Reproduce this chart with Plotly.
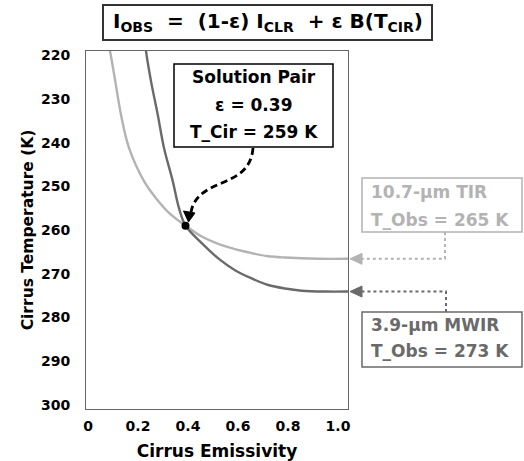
import plotly.graph_objects as go

# ---- data ----
tir_eps = [0.080, 0.088, 0.109, 0.132, 0.164, 0.224, 0.272, 0.332, 0.390, 0.455, 0.521, 0.588, 0.655, 0.721, 0.788, 0.921, 1.040]
tir_temp = [217.0, 219.0, 225.9, 233.6, 241.2, 248.8, 252.7, 256.5, 259.0, 261.5, 263.2, 264.4, 265.3, 266.0, 266.3, 266.6, 266.6]

mwir_eps = [0.228, 0.232, 0.252, 0.279, 0.304, 0.339, 0.364, 0.390, 0.455, 0.521, 0.588, 0.655, 0.721, 0.788, 0.855, 0.948, 1.040]
mwir_temp = [217.0, 219.0, 225.9, 233.6, 241.2, 248.8, 255.0, 259.0, 263.0, 266.5, 269.2, 271.1, 272.6, 273.4, 273.9, 274.1, 274.1]

solution_eps = 0.39
solution_temp = 259

y_ticks = [220, 230, 240, 250, 260, 270, 280, 290, 300]
x_ticks = [0, 0.2, 0.4, 0.6, 0.8, 1.0]
x_tick_text = ["0", "0.2", "0.4", "0.6", "0.8", "1.0"]

LIGHT = "#b3b3b3"
DARK = "#6a6a6a"
FONT = "DejaVu Sans"

W, H = 524, 461
L, R, T, B = 86, 348, 51, 409
XR = [-0.008, 1.04]
YR = [301, 219]


def px(x):
    return (x - L) / (R - L)


def py(y):
    return (B - y) / (B - T)


def dy(t):
    # data temperature -> paper y
    return (YR[0] - t) / (YR[0] - YR[1])


fig = go.Figure()
fig.add_trace(go.Scatter(x=tir_eps, y=tir_temp, mode="lines",
                         line=dict(color=LIGHT, width=2.4, shape="spline", smoothing=1.0),
                         showlegend=False))
fig.add_trace(go.Scatter(x=mwir_eps, y=mwir_temp, mode="lines",
                         line=dict(color=DARK, width=2.4, shape="spline", smoothing=1.0),
                         showlegend=False))
fig.add_trace(go.Scatter(x=[solution_eps], y=[solution_temp], mode="markers",
                         marker=dict(color="black", size=8), showlegend=False))

shapes = []
annotations = []


def rect(x0, y0, x1, y1, color, width):
    shapes.append(dict(type="rect", xref="paper", yref="paper",
                       x0=px(x0), x1=px(x1), y0=py(y1), y1=py(y0),
                       line=dict(color=color, width=width), fillcolor="rgba(0,0,0,0)"))


def path(points_str, color, width, dash="solid", fill=None):
    d = dict(type="path", xref="paper", yref="paper", path=points_str,
             line=dict(color=color, width=width, dash=dash))
    if fill:
        d["fillcolor"] = fill
    shapes.append(d)


def P(x, y):
    return f"{px(x):.5f},{py(y):.5f}"


def text(x, y, s, size, color, xanchor="center"):
    annotations.append(dict(xref="paper", yref="paper", x=px(x), y=py(y), text=s,
                            showarrow=False, xanchor=xanchor, yanchor="middle",
                            font=dict(family=FONT, size=size, color=color, weight="bold")))


# equation box
rect(103, 5, 432, 40, "#333333", 2)
text(268, 22, "I<sub>OBS</sub>\u00a0\u00a0=\u00a0\u00a0(1-ε) I<sub>CLR</sub>\u00a0\u00a0+ ε B(T<sub>CIR</sub>)", 20, "black")

# solution pair box
rect(174, 64, 333, 147, "black", 1.5)
text(253.5, 77, "Solution Pair", 17, "black")
text(253.5, 105, f"ε = {solution_eps}", 17, "black")
text(253.5, 132, f"T_Cir = {solution_temp} K", 17, "black")
path(f"M{P(253,148)} C{P(250,190)} {P(198,176)} {P(191,212)}", "black", 2.8, dash="7px,4px")
path(f"M{P(188.5,222)} L{P(183.5,211)} L{P(195,213)} Z", "black", 1, fill="black")

# TIR label
rect(362, 178, 522, 232, LIGHT, 1.5)
text(369, 192, "10.7-μm TIR", 17, LIGHT, "left")
text(369, 220, "T_Obs = 265 K", 17, LIGHT, "left")
ty_px = B - dy(tir_temp[-1]) * (B - T)
path(f"M{P(445,232)} L{P(445,ty_px)} L{P(359,ty_px)}", LIGHT, 2, dash="dot")
path(f"M{P(350,ty_px)} L{P(362,ty_px-5.5)} L{P(362,ty_px+5.5)} Z", LIGHT, 1, fill=LIGHT)

# MWIR label
rect(362, 312, 522, 367, DARK, 1.5)
text(369, 325, "3.9-μm MWIR", 17, DARK, "left")
text(369, 351, "T_Obs = 273 K", 17, DARK, "left")
my_px = B - dy(mwir_temp[-1]) * (B - T)
path(f"M{P(446,312)} L{P(446,my_px)} L{P(359,my_px)}", DARK, 2, dash="dot")
path(f"M{P(350,my_px)} L{P(362,my_px-5.5)} L{P(362,my_px+5.5)} Z", DARK, 1, fill=DARK)

fig.update_layout(
    width=W, height=H, autosize=False,
    margin=dict(l=L, r=W - R, t=T, b=H - B, pad=0),
    plot_bgcolor="white", paper_bgcolor="white",
    shapes=shapes, annotations=annotations,
    font=dict(family=FONT, color="black"),
)
fig.update_xaxes(range=XR, tickvals=x_ticks, ticktext=x_tick_text, showgrid=False, zeroline=False,
                 showline=True, linecolor="#666666", linewidth=1, mirror=True, automargin=False,
                 ticks="outside", ticklen=4, tickcolor="rgba(0,0,0,0)",
                 tickfont=dict(family=FONT, size=14, color="black", weight="bold"),
                 title=dict(text="Cirrus Emissivity", standoff=16,
                            font=dict(family=FONT, size=17, color="black", weight="bold")))
fig.update_yaxes(range=YR, tickvals=y_ticks, showgrid=False, zeroline=False,
                 showline=True, linecolor="#666666", linewidth=1, mirror=True, automargin=False,
                 ticks="outside", ticklen=12, tickcolor="rgba(0,0,0,0)",
                 tickfont=dict(family=FONT, size=14, color="black", weight="bold"),
                 title=dict(text="Cirrus Temperature (K)", standoff=3,
                            font=dict(family=FONT, size=15.5, color="black", weight="bold")))

fig.write_html("out.html", config={"displayModeBar": False},
               post_script="document.body.style.margin='0';")
